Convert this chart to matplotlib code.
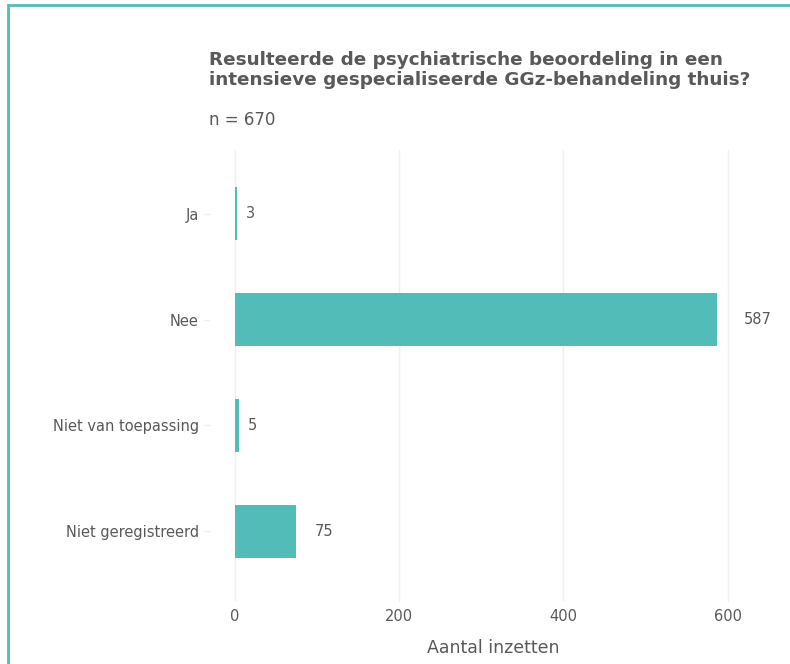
import matplotlib
matplotlib.use("Agg")
import matplotlib.pyplot as plt
from matplotlib.patches import Rectangle

categories = ["Ja", "Nee", "Niet van toepassing", "Niet geregistreerd"]
values = [3, 587, 5, 75]
xticks = [0, 200, 400, 600]
title = "Resulteerde de psychiatrische beoordeling in een\nintensieve gespecialiseerde GGz-behandeling thuis?"
subtitle = "n = 670"
xlabel = "Aantal inzetten"

teal = "#52BCB9"
textc = "#595959"
gridc = "#EFEFEF"

plt.rcParams['font.family'] = ['DejaVu Sans']
fig = plt.figure(figsize=(7.9, 6.64), dpi=100)
W, H = 790, 664
ax = fig.add_axes([210 / W, 69 / H, (777 - 210) / W, (595 - 150) / H])

ypos = list(range(1, len(categories) + 1))
ax.barh(ypos, values, height=0.5, color=teal, zorder=2)
ax.set_ylim(len(categories) + 0.6, 0.4)
ax.set_xlim(-30, 660)
ax.set_yticks(ypos)
ax.set_yticklabels(categories, fontsize=10.5, color=textc)
ax.set_xticks(xticks)
ax.set_xticklabels([str(t) for t in xticks], fontsize=10.5, color=textc)
ax.tick_params(axis='both', color=gridc, length=4, width=1, pad=4)
ax.tick_params(axis='x', pad=6)
for s in ax.spines.values():
    s.set_visible(False)
ax.grid(axis='x', color=gridc, linewidth=1, zorder=0)
ax.set_axisbelow(True)
ax.set_xlabel(xlabel, fontsize=12.5, color=textc, labelpad=11)

for y, v in zip(ypos, values):
    s = str(v)
    ax.annotate(s, xy=(v, y), xytext=(len(s) * 9, 0), textcoords='offset pixels',
                ha='left', va='center', fontsize=10.5, color=textc)

fig.text(209 / W, 1 - 51 / H, title, fontsize=13.2, fontweight='bold', color=textc,
         ha='left', va='top', linespacing=1.12)
fig.text(209 / W, 1 - 111 / H, subtitle, fontsize=12, color=textc, ha='left', va='top')

fig.patches.append(Rectangle((8 / W, -0.1), 1.2, 1 - 5 / H + 0.1, transform=fig.transFigure,
                             fill=False, edgecolor=teal, linewidth=2, figure=fig))

fig.savefig("out.png", dpi=100)
